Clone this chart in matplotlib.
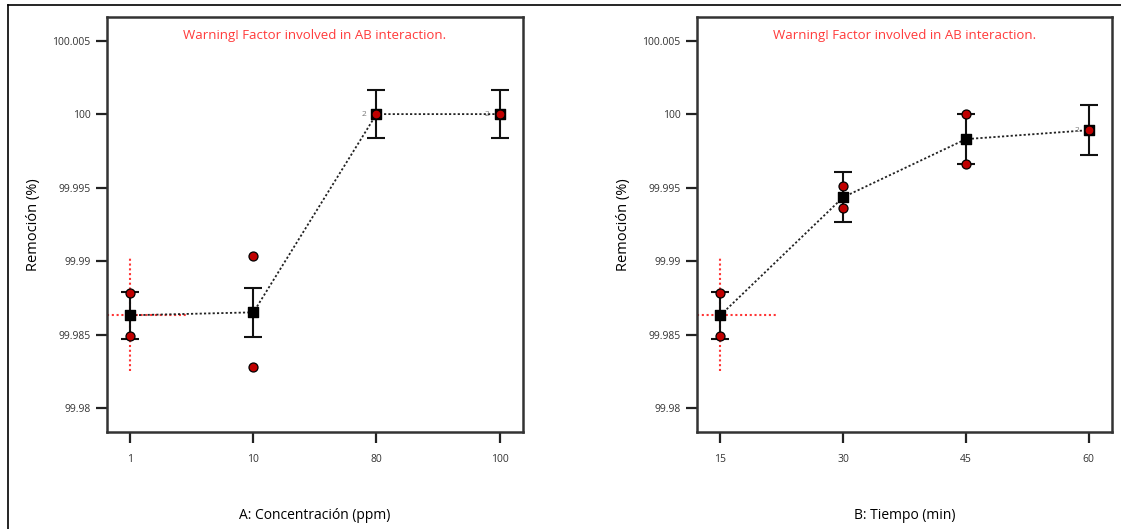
"""
One-factor effect plots (Design-Expert style) for removal percentage.
"""

import matplotlib
matplotlib.use("Agg")

import matplotlib.pyplot as plt
from matplotlib.lines import Line2D

# ---------------------------------------------------------------------------
# Data
# ---------------------------------------------------------------------------
conc_labels = ["1", "10", "80", "100"]
conc_mean = [99.98633, 99.98653, 100.0, 100.0]
conc_ci = [0.00160, 0.00167, 0.00163, 0.00163]
conc_obs_hi = [99.98782, 99.99034, 100.0, 100.0]
conc_obs_lo = [99.98490, 99.98279, 100.0, 100.0]
conc_repl = ["", "", "2", "2"]

time_labels = ["15", "30", "45", "60"]
time_mean = [99.98633, 99.99435, 99.99830, 99.99891]
time_ci = [0.00160, 0.00170, 0.00170, 0.00170]
time_obs_hi = [99.98782, 99.99510, 100.0, 99.99891]
time_obs_lo = [99.98490, 99.99361, 99.99660, 99.99891]
time_repl = ["", "", "", "2"]

y_ticks = [99.98, 99.985, 99.99, 99.995, 100.0, 100.005]
y_tick_labels = ["99.98", "99.985", "99.99", "99.995", "100", "100.005"]

# red crosshair on the first level (vertical span, horizontal reach in x units)
cross_y = (99.98252, 99.99034)
cross_x_reach = 1.45

warning = "Warning! Factor involved in AB interaction."

plt.rcParams["font.family"] = ["Open Sans", "DejaVu Sans"]

fig = plt.figure(figsize=(11.21, 5.29), dpi=100)

# outer document frame (left and top edges)
fig.add_artist(Line2D([0.0072, 0.0072], [0.0, 0.9905], color="black", lw=1.2))
fig.add_artist(Line2D([0.0072, 1.0], [0.9905, 0.9905], color="black", lw=1.2))


def effect_panel(ax, labels, mean, ci, obs_hi, obs_lo, repl, xlabel):
    x = list(range(1, len(labels) + 1))

    # dotted line through the predicted means
    ax.plot(x, mean, color="#222222", ls=(0, (1.2, 1.2)), lw=1.3, zorder=2)

    # red crosshair on the first level
    ax.plot([x[0], x[0]], cross_y, color="#ff3535", ls=(0, (1, 1.3)),
            lw=1.5, zorder=1)
    ax.plot([0.81, cross_x_reach], [mean[0], mean[0]], color="#ff3535",
            ls=(0, (1, 1.3)), lw=1.5, zorder=1)

    ax.errorbar(x, mean, yerr=ci, fmt="none", ecolor="#111111", elinewidth=1.5,
                capsize=6.5, capthick=1.5, zorder=3)
    ax.scatter(x, mean, marker="s", s=55, color="black", zorder=4)
    ax.scatter(x + x, obs_hi + obs_lo, marker="o", s=42, color="#c00000",
               edgecolors="black", linewidths=0.9, zorder=5)

    for xi, yi, r in zip(x, obs_hi, repl):
        if r:
            ax.annotate(r, (xi, yi), xytext=(-7, 0), textcoords="offset points",
                        ha="right", va="center", fontsize=6, color="#777777",
                        zorder=6)

    ax.set_xlim(0.81, 4.19)
    ax.set_ylim(99.9784, 100.0066)
    ax.set_xticks(x)
    ax.set_xticklabels(labels)
    ax.set_yticks(y_ticks)
    ax.set_yticklabels(y_tick_labels)
    ax.tick_params(axis="both", direction="out", length=8, width=1.6,
                   color="#222222", labelsize=7.5, labelcolor="#333333")
    ax.tick_params(axis="x", pad=8)
    ax.tick_params(axis="y", pad=4)

    for side in ax.spines.values():
        side.set_linewidth(1.8)
        side.set_color("#333333")

    ax.set_ylabel("Remoción (%)", fontsize=10.5, labelpad=8)
    ax.set_xlabel(xlabel, fontsize=10, labelpad=31)
    ax.text(0.5, 0.955, warning, transform=ax.transAxes, ha="center",
            va="center", fontsize=9.5, color="#ff3a3a")


ax_a = fig.add_axes([0.0954, 0.1834, 0.3711, 0.7845])
effect_panel(ax_a, conc_labels, conc_mean, conc_ci, conc_obs_hi, conc_obs_lo,
             conc_repl, "A: Concentración (ppm)")

ax_b = fig.add_axes([0.6218, 0.1834, 0.3702, 0.7845])
effect_panel(ax_b, time_labels, time_mean, time_ci, time_obs_hi, time_obs_lo,
             time_repl, "B: Tiempo (min)")

fig.savefig("out.png", dpi=100)
plt.close(fig)
